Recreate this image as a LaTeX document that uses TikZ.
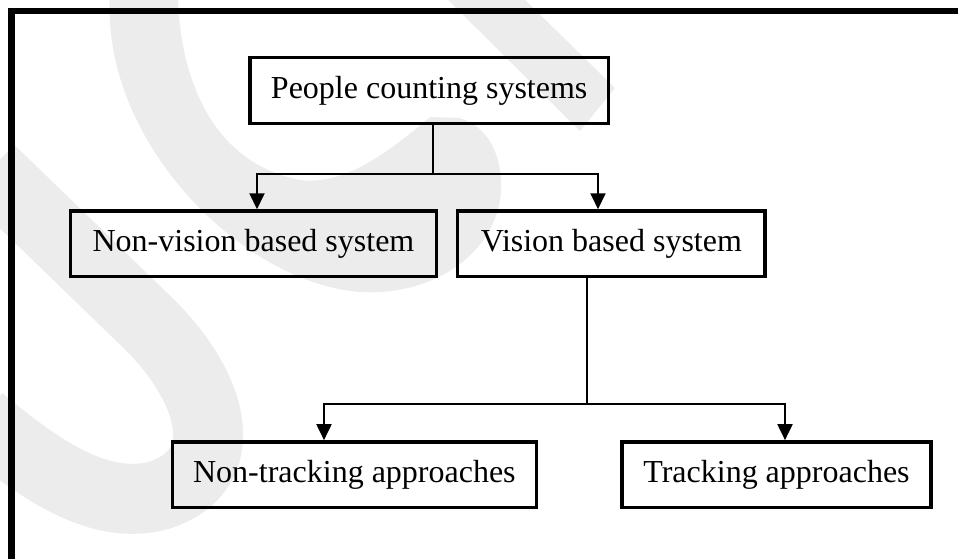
\documentclass[tikz,border=0pt]{standalone}
\usepackage{fontspec}
\setmainfont{Liberation Serif}
\usetikzlibrary{arrows.meta}
\definecolor{wm}{RGB}{236,236,236}
\begin{document}
\begin{tikzpicture}[x=1pt,y=-1pt,
  box/.style={draw, line width=3.4pt, inner sep=0pt, minimum height=65.7pt,
              font=\fontsize{32}{38}\selectfont},
  conn/.style={line width=2pt},
  arr/.style={line width=2pt, -{Triangle[width=15pt,length=16pt]}},
  wmband/.style={draw=wm, line width=70pt, line cap=butt}]
\useasboundingbox (0,0) rectangle (958,559);
% faint watermark
\fill[wm] (110,-5) .. controls (100,150) and (260,300) .. (380,292)
  .. controls (460,287) and (510,230) .. (500,170)
  .. controls (495,140) and (480,125) .. (460,118)
  -- (430,117) .. controls (380,160) and (340,185) .. (300,180)
  .. controls (220,165) and (180,90) .. (178,-5) -- cycle;
\fill[wm] (443,-5) -- (520,-5) -- (615,88) -- (580,131) -- cycle;
\draw[wmband] (-10,170) -- (150,325) .. controls (215,390) and (235,470) .. (160,495)
  .. controls (100,512) and (40,470) .. (-20,420);
% outer frame
\draw[line width=6.5pt, line join=miter] (11.5,575) -- (11.5,11) -- (975,11);
% boxes
\node[box, minimum width=358.3pt] (top) at (429.2,90.5) {People counting systems};
\node[box, minimum width=366.4pt] (nv) at (253.5,243.8) {Non-vision based system};
\node[box, minimum width=307.3pt] (v) at (611.4,243.8) {Vision based system};
\node[box, minimum width=364.2pt] (nt) at (354.4,474.7) {Non-tracking approaches};
\node[box, minimum width=309pt] (t) at (776.5,474.7) {Tracking approaches};
% junction points
\coordinate (j1) at (433,173.7);
\coordinate (x1) at (257,0);
\coordinate (x2) at (598,0);
\coordinate (j2) at (586.7,403.8);
\coordinate (x3) at (324,0);
\coordinate (x4) at (785,0);
% connectors
\draw[conn] (top.south -| j1) -- (j1);
\draw[arr] (j1) -| (nv.north -| x1);
\draw[arr] (j1) -| (v.north -| x2);
\draw[conn] (v.south -| j2) -- (j2);
\draw[arr] (j2) -| (nt.north -| x3);
\draw[arr] (j2) -| (t.north -| x4);
\end{tikzpicture}
\end{document}
